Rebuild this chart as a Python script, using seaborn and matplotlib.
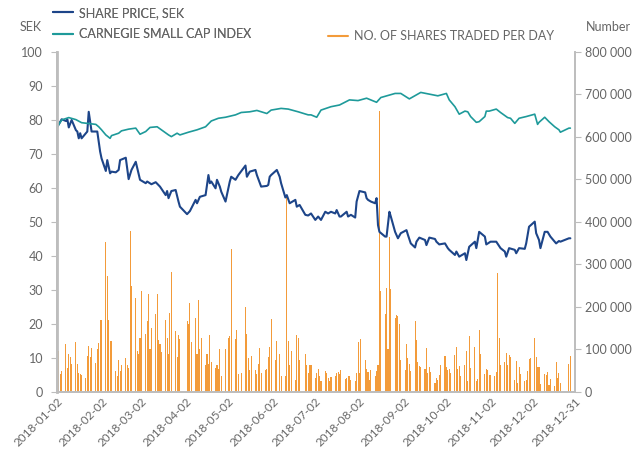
import numpy as np
import pandas as pd
import matplotlib
matplotlib.use("Agg")
import matplotlib.pyplot as plt
import seaborn as sns
from matplotlib.lines import Line2D
from matplotlib.ticker import FuncFormatter

# ---------------- data ----------------
price_dates = ["2018-01-02","2018-01-05","2018-01-08","2018-01-09","2018-01-10","2018-01-12","2018-01-15",
"2018-01-16","2018-01-17","2018-01-18","2018-01-19","2018-01-22","2018-01-23","2018-01-24","2018-01-25",
"2018-01-26","2018-01-30","2018-02-01","2018-02-02","2018-02-05","2018-02-06","2018-02-08","2018-02-09",
"2018-02-12","2018-02-14","2018-02-15","2018-02-19","2018-02-21","2018-02-23","2018-02-26","2018-03-01",
"2018-03-05","2018-03-06","2018-03-09","2018-03-12","2018-03-15","2018-03-19","2018-03-20","2018-03-21",
"2018-03-23","2018-03-26","2018-03-28","2018-03-29","2018-04-03","2018-04-05","2018-04-09","2018-04-10",
"2018-04-12","2018-04-16","2018-04-18","2018-04-19","2018-04-20","2018-04-23","2018-04-24","2018-04-26",
"2018-04-27","2018-04-30","2018-05-03","2018-05-04","2018-05-07","2018-05-09","2018-05-14","2018-05-15",
"2018-05-17","2018-05-21","2018-05-22","2018-05-25","2018-05-29","2018-05-30","2018-05-31","2018-06-01",
"2018-06-05","2018-06-07","2018-06-08","2018-06-11","2018-06-12","2018-06-14","2018-06-18","2018-06-19",
"2018-06-21","2018-06-25","2018-06-27","2018-06-29","2018-07-02","2018-07-04","2018-07-06","2018-07-09",
"2018-07-11","2018-07-13","2018-07-16","2018-07-17","2018-07-19","2018-07-20","2018-07-24","2018-07-25",
"2018-07-27","2018-07-30","2018-07-31","2018-08-02","2018-08-06","2018-08-07","2018-08-08","2018-08-10",
"2018-08-13","2018-08-14","2018-08-15","2018-08-16","2018-08-20","2018-08-21","2018-08-23","2018-08-24",
"2018-08-27","2018-08-29","2018-08-31","2018-09-04","2018-09-05","2018-09-07","2018-09-10","2018-09-11",
"2018-09-13","2018-09-17","2018-09-18","2018-09-20","2018-09-24","2018-09-25","2018-09-27","2018-10-01",
"2018-10-03","2018-10-04","2018-10-08","2018-10-09","2018-10-11","2018-10-15","2018-10-16","2018-10-18",
"2018-10-22","2018-10-23","2018-10-25","2018-10-29","2018-10-30","2018-11-02","2018-11-06","2018-11-09",
"2018-11-12","2018-11-13","2018-11-15","2018-11-19","2018-11-20","2018-11-22","2018-11-26","2018-11-27",
"2018-11-29","2018-12-03","2018-12-04","2018-12-06","2018-12-07","2018-12-10","2018-12-12","2018-12-14",
"2018-12-18","2018-12-20","2018-12-21","2018-12-27","2018-12-28"]
price_values = [78.0,80.2,79.7,80.2,77.8,80.0,77.0,76.6,74.6,76.1,74.6,76.1,76.6,82.4,79.5,76.6,76.6,70.7,
68.7,65.0,68.2,64.3,64.8,64.6,65.3,68.2,68.9,62.6,65.3,67.7,62.4,61.4,61.9,61.1,61.7,60.4,57.9,59.1,57.0,
59.1,59.4,56.0,54.5,52.3,53.2,56.5,55.5,57.4,57.9,63.8,61.4,61.9,59.9,62.4,60.4,58.9,56.0,61.9,63.3,62.4,
63.8,66.6,63.3,64.8,65.3,63.8,60.4,60.6,60.9,63.3,63.8,65.3,63.3,61.4,57.2,57.9,55.5,56.5,54.5,55.0,52.1,
51.9,52.5,50.6,51.6,50.6,53.0,52.5,53.0,52.5,53.5,51.6,51.6,53.0,51.6,52.1,51.3,56.0,59.1,58.7,57.0,56.5,
56.0,55.5,57.0,49.1,47.1,45.7,45.7,53.0,51.6,47.1,45.2,46.7,47.6,46.2,43.7,42.5,44.2,45.4,44.7,43.2,45.4,
45.0,44.2,43.4,43.7,42.3,41.8,40.3,41.3,39.8,40.8,38.8,42.7,44.2,42.3,47.1,45.7,43.4,44.2,44.2,42.3,41.3,
39.8,42.3,41.8,40.8,42.3,42.1,43.7,48.6,50.1,46.7,44.7,42.3,47.1,47.1,45.7,43.7,44.4,44.2,45.2,45.2]

index_dates = ["2018-01-02","2018-01-05","2018-01-10","2018-01-15","2018-01-19","2018-01-23","2018-01-29",
"2018-01-31","2018-02-02","2018-02-05","2018-02-08","2018-02-09","2018-02-14","2018-02-16","2018-02-21",
"2018-02-26","2018-03-01","2018-03-05","2018-03-08","2018-03-13","2018-03-16","2018-03-21","2018-03-23",
"2018-03-27","2018-03-29","2018-04-04","2018-04-10","2018-04-16","2018-04-20","2018-04-25","2018-04-30",
"2018-05-07","2018-05-11","2018-05-17","2018-05-22","2018-05-29","2018-06-01","2018-06-08","2018-06-13",
"2018-06-20","2018-06-27","2018-06-29","2018-07-03","2018-07-06","2018-07-13","2018-07-19","2018-07-26",
"2018-08-01","2018-08-07","2018-08-14","2018-08-17","2018-08-27","2018-08-31","2018-09-06","2018-09-14",
"2018-09-20","2018-09-26","2018-10-02","2018-10-04","2018-10-08","2018-10-11","2018-10-15","2018-10-17",
"2018-10-19","2018-10-23","2018-10-25","2018-10-29","2018-10-30","2018-11-01","2018-11-06","2018-11-09",
"2018-11-14","2018-11-16","2018-11-19","2018-11-22","2018-11-27","2018-12-03","2018-12-05","2018-12-06",
"2018-12-10","2018-12-13","2018-12-17","2018-12-20","2018-12-21","2018-12-27","2018-12-28"]
index_values = [78.0,80.0,80.7,80.1,79.2,79.0,78.7,78.0,77.1,75.6,74.6,75.4,76.1,76.8,77.3,77.6,75.8,76.6,
77.8,78.0,77.1,75.6,75.1,76.1,75.6,76.4,77.1,78.0,79.7,80.5,80.8,81.5,82.2,82.4,82.8,81.9,82.9,83.4,83.2,
82.4,81.5,81.5,80.8,82.9,83.9,84.4,85.9,85.7,86.4,85.2,86.6,87.8,87.8,86.2,88.1,87.6,87.1,87.8,85.9,83.9,
81.7,82.6,82.4,81.0,79.3,79.5,81.0,82.6,82.6,83.2,82.2,80.7,80.5,79.0,80.5,81.0,81.7,78.7,79.3,80.8,79.5,
78.0,77.1,76.4,77.6,77.6]

holidays = ["2018-03-30","2018-04-02","2018-05-01","2018-05-10","2018-06-06","2018-06-22",
            "2018-12-24","2018-12-25","2018-12-26","2018-12-31"]

# shares traded per day, thousands (one value per trading day)
volume_k = [118,96,43,49,
114,56,90,82,65, 118,67,45,42,39, 33,84,108,82,104, 68,100,115,170,169,
353,274,169,120,120, 49,38,76,49,63, 81,63,56,378,249, 222,96,89,127,238,
136,167,231,100,151, 184,231,122,112,93, 169,128,89,187,282, 143,82,135,125,
167,159,209,118, 175,90,216,102,128, 63,90,67,135,71, 57,63,55,102,38,
100,128,131,337, 124,147,42,45, 200,136,80,51,84, 51,43,67,104,45,
51,55,82,107,172, 76,120,90,37, 37,459,120,63,96, 29,133,128,76,
90,63,45,64,64, 34,45,55,38,25, 49,45,34,27,35, 38,45,47,43,52,
31,34,37,38,29, 25,45,118,45,125, 75,53,47,29,52, 38,49,63,662,238,
184,245,102,365,243, 174,182,179,159,76, 51,114,80,67,49, 166,122,71,60,59,
55,104,45,59,47, 20,34,29,39,63, 84,59,51,55,45, 86,107,55,60,37,
64,96,26,131,56, 107,27,31,147,90, 42,55,51,41,39, 37,47,280,128,63,
71,92,63,86,82, 29,73,20,59,43, 26,29,49,78,80, 128,82,59,59,18,
43,39,47,16,30, 14,71,34,45,20, 65,84]

tick_dates = ["2018-01-02","2018-02-02","2018-03-02","2018-04-02","2018-05-02","2018-06-02",
              "2018-07-02","2018-08-02","2018-09-02","2018-10-02","2018-11-02","2018-12-02","2018-12-31"]
left_ticks = [0, 10, 20, 30, 40, 50, 60, 70, 80, 90, 100]
right_ticks = [0, 100000, 200000, 300000, 400000, 500000, 600000, 700000, 800000]

# ---------------- style ----------------
sns.set_theme(style="white")
plt.rcParams['font.family'] = ['Lato', 'DejaVu Sans']
TXT = '#666666'
SPINE = '#bdbdbd'
C_PRICE = '#1d4589'
C_INDEX = '#1e9a9a'
C_VOL = '#f39b3a'

fig = plt.figure(figsize=(6.35, 4.53), dpi=100)
ax = fig.add_axes([0.0898, 0.1347, 0.8157, 0.7506])
ax2 = ax.twinx()

trade_days = pd.bdate_range("2018-01-02", "2018-12-31").difference(pd.to_datetime(holidays))
n = min(len(trade_days), len(volume_k))
ax2.bar(trade_days[:n], np.array(volume_k[:n]) * 1000, width=0.75, color=C_VOL, linewidth=0)

df_p = pd.DataFrame({"date": pd.to_datetime(price_dates), "v": price_values})
df_i = pd.DataFrame({"date": pd.to_datetime(index_dates), "v": index_values})
sns.lineplot(data=df_p, x="date", y="v", ax=ax, color=C_PRICE, linewidth=1.5)
sns.lineplot(data=df_i, x="date", y="v", ax=ax, color=C_INDEX, linewidth=1.2)

ax.set_zorder(ax2.get_zorder() + 1)
ax.patch.set_visible(False)

ax.set_ylim(0, 100)
ax2.set_ylim(0, 800000)
ax.set_xlim(pd.Timestamp("2018-01-01 18:00"), pd.Timestamp("2018-12-31 06:00"))
ax.set_xlabel("")
ax.set_ylabel("")
ax2.set_ylabel("")

ax.set_yticks(left_ticks)
ax2.set_yticks(right_ticks)
ax2.yaxis.set_major_formatter(FuncFormatter(lambda v, p: f"{int(v):,}".replace(",", " ")))
ax.set_xticks(pd.to_datetime(tick_dates))
ax.set_xticklabels(tick_dates, rotation=45, ha="right", va="top", rotation_mode="anchor")

for a in (ax, ax2):
    for s in a.spines.values():
        s.set_color(SPINE)
    a.spines["top"].set_visible(False)
ax.spines["left"].set_linewidth(2.0)
ax2.spines["right"].set_linewidth(1.2)
ax.spines["bottom"].set_linewidth(1.2)

ax.tick_params(axis="y", left=True, length=4, width=0.8, color=SPINE, labelcolor=TXT, labelsize=9, pad=6)
ax2.tick_params(axis="y", right=True, length=4, width=0.8, color=SPINE, labelcolor=TXT, labelsize=9, pad=3)
ax.tick_params(axis="x", bottom=True, length=0, labelcolor=TXT, labelsize=8.5, pad=3)

fig.text(0.048, 0.94, "SEK", color=TXT, fontsize=9, ha="center", va="center")
fig.text(0.958, 0.94, "Number", color=TXT, fontsize=9, ha="center", va="center")

h_price = Line2D([], [], color=C_PRICE, lw=1.5)
h_index = Line2D([], [], color=C_INDEX, lw=1.5)
h_vol = Line2D([], [], color=C_VOL, lw=1.5)
leg1 = fig.legend([h_price, h_index], ["SHARE PRICE, SEK", "CARNEGIE SMALL CAP INDEX"],
                  loc="upper left", bbox_to_anchor=(0.083, 0.985), frameon=False, fontsize=9,
                  handlelength=1.6, handletextpad=0.5, labelspacing=0.75, borderpad=0, borderaxespad=0,
                  labelcolor=TXT)
leg2 = fig.legend([h_vol], ["NO. OF SHARES TRADED PER DAY"],
                  loc="upper left", bbox_to_anchor=(0.516, 0.934), frameon=False, fontsize=9,
                  handlelength=1.6, handletextpad=0.5, borderpad=0, borderaxespad=0, labelcolor=TXT)
fig.add_artist(leg1)

fig.savefig("out.png", dpi=100)
